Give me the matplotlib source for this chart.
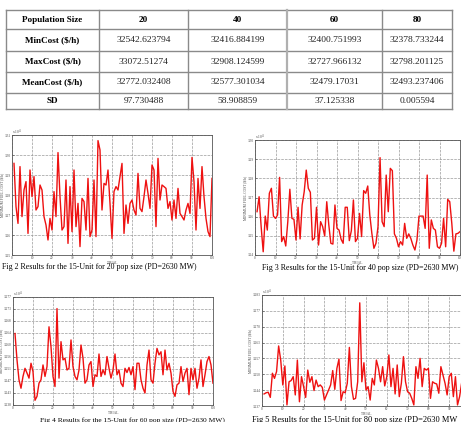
import numpy as np
import matplotlib
matplotlib.use('Agg')
import matplotlib.pyplot as plt

plt.rcParams['font.family'] = ['Liberation Serif', 'DejaVu Serif']

W, H = 461, 422

# table
col_heads = ['Population Size', '20', '40', '60', '80']
row_names = ['MinCost ($/h)', 'MaxCost ($/h)', 'MeanCost ($/h)', 'SD']
min_cost = ['32542.623794', '32416.884199', '32400.751993', '32378.733244']
max_cost = ['33072.51274', '32908.124599', '32727.966132', '32798.201125']
mean_cost = ['32772.032408', '32577.301034', '32479.17031', '32493.237406']
sd_vals = ['97.730488', '58.908859', '37.125338', '0.005594']

# minimum cost per trial, pop sizes 20 / 40 / 60 / 80
cost20 = [32958, 32742, 32658, 32942, 32692, 32825, 32867, 32608, 32925, 32792,
          32892, 32725, 32742, 32850, 32825, 32692, 32650, 32575, 32683, 32625,
          32817, 32692, 33012, 32792, 32625, 32642, 32875, 32558, 32842, 32617,
          32925, 32642, 32758, 32542, 32783, 32767, 32625, 32883, 32592, 32625,
          32875, 32592, 33072, 33025, 32725, 32858, 32850, 32925, 32758, 32583,
          32817, 32842, 32825, 32892, 32958, 32608, 32750, 32658, 32758, 32775,
          32725, 32700, 32908, 32733, 32717, 32792, 32875, 32808, 32733, 32950,
          32925, 32642, 32983, 32775, 32850, 32842, 32833, 32733, 32767, 32675,
          32775, 32683, 32833, 32708, 32692, 32675, 32725, 32758, 32708, 32988,
          32867, 32625, 32883, 32733, 32942, 32792, 32683, 32617, 32592, 32883]

cost40 = [32626, 32704, 32548, 32417, 32603, 32530, 32722, 32748, 32603, 32591,
          32609, 32805, 32470, 32496, 32447, 32574, 32743, 32591, 32586, 32478,
          32649, 32484, 32661, 32730, 32843, 32748, 32727, 32478, 32487, 32649,
          32452, 32574, 32548, 32499, 32678, 32557, 32461, 32457, 32661, 32539,
          32530, 32482, 32461, 32649, 32649, 32475, 32527, 32687, 32470, 32487,
          32617, 32496, 32736, 32722, 32760, 32609, 32513, 32435, 32461, 32548,
          32908, 32574, 32548, 32817, 32626, 32852, 32840, 32510, 32487, 32443,
          32470, 32452, 32565, 32487, 32510, 32487, 32452, 32426, 32478, 32603,
          32603, 32603, 32539, 32817, 32435, 32583, 32539, 32530, 32443, 32435,
          32461, 32591, 32443, 32690, 32678, 32565, 32420, 32510, 32513, 32522]

cost60 = [32639, 32545, 32474, 32444, 32486, 32515, 32498, 32480, 32533, 32503,
          32401, 32415, 32462, 32474, 32527, 32486, 32521, 32663, 32592, 32486,
          32450, 32728, 32480, 32610, 32545, 32551, 32509, 32515, 32616, 32521,
          32486, 32474, 32509, 32598, 32551, 32462, 32474, 32527, 32539, 32450,
          32492, 32486, 32566, 32486, 32509, 32492, 32557, 32515, 32480, 32509,
          32566, 32492, 32509, 32462, 32450, 32515, 32500, 32518, 32492, 32521,
          32439, 32533, 32533, 32474, 32444, 32427, 32527, 32580, 32474, 32462,
          32533, 32586, 32563, 32574, 32492, 32580, 32509, 32533, 32498, 32433,
          32415, 32456, 32462, 32521, 32468, 32498, 32515, 32421, 32515, 32474,
          32515, 32444, 32480, 32545, 32450, 32492, 32539, 32557, 32527, 32462]

cost80 = [32424, 32429, 32431, 32410, 32509, 32488, 32516, 32621, 32563, 32461,
          32539, 32379, 32474, 32479, 32495, 32420, 32563, 32392, 32495, 32454,
          32410, 32522, 32472, 32495, 32438, 32481, 32454, 32461, 32451, 32399,
          32420, 32440, 32461, 32520, 32443, 32529, 32567, 32397, 32433, 32429,
          32468, 32615, 32454, 32402, 32406, 32474, 32798, 32474, 32552, 32440,
          32454, 32399, 32488, 32461, 32563, 32529, 32474, 32536, 32457, 32495,
          32584, 32454, 32529, 32424, 32543, 32413, 32468, 32577, 32474, 32433,
          32427, 32406, 32379, 32536, 32488, 32570, 32454, 32529, 32522, 32529,
          32406, 32474, 32468, 32465, 32427, 32536, 32502, 32468, 32420, 32495,
          32509, 32413, 32495, 32379, 32413, 32470, 32500, 32445, 32480, 32455]

captions = ['Fig 2 Results for the 15-Unit for 20 pop size (PD=2630 MW)',
            'Fig 3 Results for the 15-Unit for 40 pop size (PD=2630 MW)',
            'Fig 4 Results for the 15-Unit for 60 pop size (PD=2630 MW)',
            'Fig 5 Results for the 15-Unit for 80 pop size (PD=2630 MW']

fig = plt.figure(figsize=(W / 100, H / 100), dpi=100)

# page layer: table + captions, pixel coords
pg = fig.add_axes([0, 0, 1, 1])
pg.set_xlim(0, W)
pg.set_ylim(H, 0)
pg.axis('off')

xs = [6, 99, 188, 287, 382, 452]
ys = [10, 29, 51, 72, 93, 109]
for y in ys:
    pg.plot([xs[0], xs[-1]], [y, y], color='#8a8a8a', lw=1)
for i, x in enumerate(xs):
    pg.plot([x, x], [ys[0], ys[-1]], color='#8a8a8a' if i != 3 else '#b0b0b0', lw=1 if i != 3 else 1.6)

rows = [min_cost, max_cost, mean_cost, sd_vals]
for j, h in enumerate(col_heads):
    cx = (xs[j] + xs[j + 1]) / 2
    pg.text(cx, (ys[0] + ys[1]) / 2, h, ha='center', va='center', fontsize=6.6, fontweight='bold')
for i, name in enumerate(row_names):
    cy = (ys[i + 1] + ys[i + 2]) / 2
    pg.text((xs[0] + xs[1]) / 2, cy, name, ha='center', va='center', fontsize=6.6, fontweight='bold')
    for j, v in enumerate(rows[i]):
        cx = (xs[j + 1] + xs[j + 2]) / 2
        pg.text(cx, cy, v, ha='center', va='center', fontsize=6.8, color='#222222')

pg.text(2, 267, captions[0], ha='left', va='center', fontsize=5.7)
pg.text(262, 268, captions[1], ha='left', va='center', fontsize=5.8)
pg.text(40, 420, captions[2], ha='left', va='center', fontsize=5.4)
pg.text(252, 420, captions[3], ha='left', va='center', fontsize=6.0)

# axes boxes in pixels: left, top, right, bottom
boxes = [(12, 135, 212, 255), (255, 140, 460, 255), (13, 297, 213, 405), (262, 295, 470, 406)]
series = [cost20, cost40, cost60, cost80]
ylims = [(32500, 33100), (32400, 33000), (32384.2, 32769.2), (32374.6, 32830.1)]
nticks = [7, 7, 10, 8]
fmts = ['%.2f', '%.2f', '%.3f', '%.3f']

for k in range(4):
    l, t, r, b = boxes[k]
    ax = fig.add_axes([l / W, 1 - b / H, (r - l) / W, (b - t) / H])
    trials = np.arange(1, len(series[k]) + 1)
    ax.plot(trials, series[k], color='#ee1111', lw=1.0)
    ax.set_xlim(0, 100)
    ax.set_ylim(*ylims[k])
    ax.set_xticks(np.arange(0, 101, 10))
    yt = np.linspace(ylims[k][0], ylims[k][1], nticks[k])
    ax.set_yticks(yt)
    ax.set_yticklabels([fmts[k] % (v / 1e4) for v in yt])
    ax.tick_params(labelsize=2.4, length=1.5, width=0.4, direction='in', pad=0.8, colors='#444444')
    ax.grid(True, linestyle='--', color='#9a9a9a', lw=0.5)
    for s in ax.spines.values():
        s.set_linewidth(0.6)
        s.set_color('#555555')
    ax.set_xlabel('TRIAL', fontsize=2.6, labelpad=0.3, color='#444444')
    ax.set_ylabel('MINIMUM FUEL COST ($/h)', fontsize=2.6, labelpad=0.5, color='#444444')
    ax.text(0, 1.01, r'x 10$^4$', transform=ax.transAxes, fontsize=2.6, color='#444444')

fig.savefig('out.png', dpi=100)
